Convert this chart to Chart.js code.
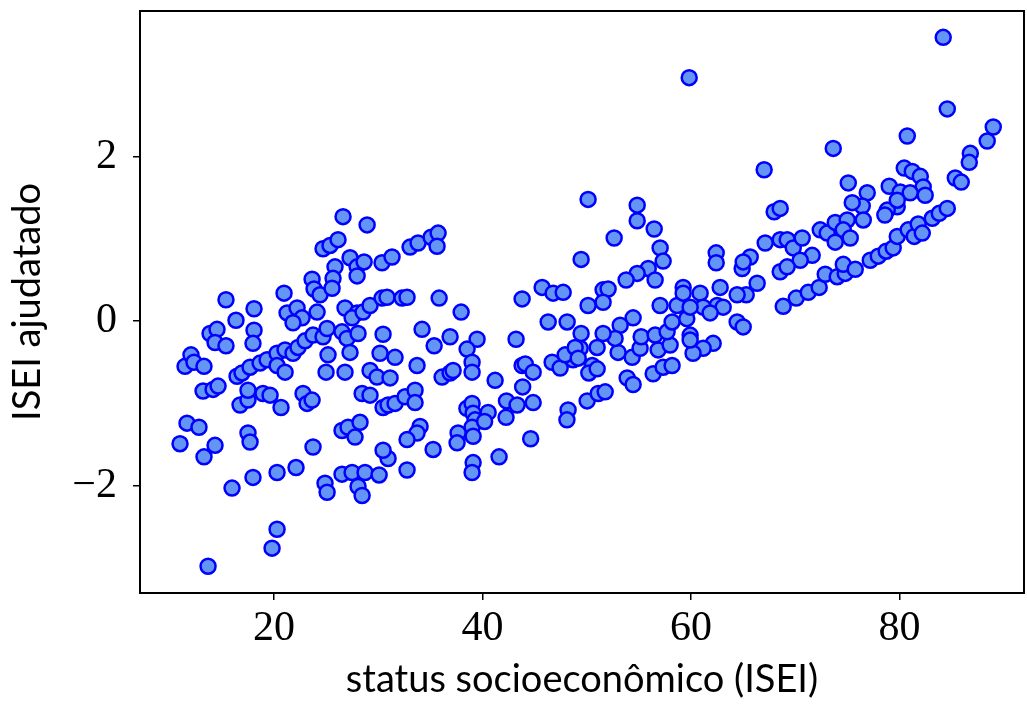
<!DOCTYPE html>
<html><head><meta charset="utf-8">
<script src="https://cdn.jsdelivr.net/npm/chart.js@4"></script>
<style>html,body{margin:0;padding:0;background:#fff;} canvas{display:block;}</style>
</head><body>
<canvas id="c" width="1027" height="704"></canvas>
<script>
const xValues = [
10.98,11.46,12.03,12.32,13.28,11.65,12.80,13.28,14.34,13.67,13.86,14.53,14.34,15.39,15.39,13.19,14.15,14.63,16.35,18.08,
18.08,17.98,16.45,16.93,17.70,18.66,19.33,20.29,21.06,21.82,22.30,22.98,23.74,24.70,25.09,20.29,21.06,16.74,17.50,17.50,
18.94,19.62,20.67,22.78,23.17,23.65,17.50,17.70,15.97,17.98,20.29,22.11,23.74,20.29,19.81,20.96,21.25,22.21,22.69,21.82,
24.13,23.65,23.84,24.41,24.70,25.37,26.14,26.62,25.85,25.66,25.57,27.29,27.97,28.64,27.97,28.93,26.81,27.97,27.49,28.54,
29.21,26.52,27.00,28.06,27.29,26.81,25.18,24.99,24.89,25.09,26.52,27.49,28.73,28.06,28.45,26.52,27.10,28.25,27.77,30.17,
31.61,33.72,29.21,29.88,31.13,28.45,29.21,30.46,30.94,31.61,32.57,33.53,33.53,34.01,33.72,32.76,35.26,30.94,30.46,30.08,
30.36,30.84,32.28,32.76,30.36,31.32,33.05,33.82,35.07,35.74,35.64,35.84,37.95,30.46,34.20,35.36,36.89,39.48,38.52,39.00,
39.00,43.22,36.12,36.89,37.18,41.21,43.80,44.10,44.86,38.50,39.00,39.10,39.29,39.00,37.66,37.56,39.10,40.54,40.20,42.30,
42.26,43.32,44.86,43.85,44.62,41.59,39.10,39.00,48.21,48.10,50.04,51.10,51.77,53.88,54.45,46.68,47.45,48.69,49.37,50.52,
50.20,51.00,47.93,48.89,49.18,56.37,57.33,58.19,56.85,53.01,54.36,55.12,58.00,55.22,56.56,57.71,58.19,54.45,53.21,52.72,
51.57,49.46,51.00,46.30,48.12,43.80,45.72,46.78,47.74,49.46,50.13,52.63,54.84,54.84,56.47,57.04,57.33,55.90,56.56,54.84,
53.78,50.13,51.57,52.05,51.57,57.04,58.67,59.25,59.25,59.60,59.92,60.88,62.80,62.51,63.09,61.17,59.92,61.84,64.43,65.01,
62.13,61.17,60.20,59.92,62.42,62.42,64.91,65.68,65.01,66.35,65.30,64.43,67.02,67.98,68.56,67.12,68.56,69.23,69.81,70.67,
71.63,70.48,68.56,69.23,68.85,70.10,71.25,72.30,72.88,74.03,74.80,74.61,75.76,77.20,77.97,78.73,79.40,79.79,80.84,81.42,
81.80,82.19,83.15,83.82,84.59,72.40,73.07,73.84,74.99,74.61,75.28,73.84,73.65,75.09,76.91,76.43,75.47,76.53,79.02,80.08,
80.46,81.23,82.00,82.28,82.47,79.79,78.83,81.03,79.79,78.60,80.75,84.59,84.20,89.00,88.42,86.80,86.70,85.36,85.93,59.83,
32.76
];
const yValues = [
-1.49,-0.55,-0.41,-0.50,-0.55,-1.24,-1.29,-1.65,-1.51,-2.98,-0.15,-0.10,-0.26,-0.30,0.26,-0.85,-0.83,-0.79,0.01,0.15,
-0.11,-0.27,-0.67,-0.63,-0.56,-0.51,-0.47,-0.39,-0.35,-0.39,-0.32,-0.24,-0.17,-0.19,-0.09,-0.54,-0.62,-1.02,-0.96,-0.84,
-0.88,-0.90,-1.05,-0.88,-1.00,-0.96,-1.36,-1.47,-2.03,-1.90,-1.84,-1.78,-1.53,-2.53,-2.76,0.34,0.10,0.16,0.04,-0.02,
0.11,0.51,0.39,0.32,0.88,0.92,0.99,1.27,0.66,0.52,0.40,0.77,0.66,0.72,0.55,1.17,0.16,0.10,0.04,0.11,
0.19,-0.13,-0.21,-0.15,-0.38,-0.62,-0.41,-0.62,-1.97,-2.08,-1.86,-1.84,-1.84,-2.01,-2.12,-1.33,-1.29,-1.23,-1.41,-0.39,
-0.44,-0.54,-0.60,-0.68,-0.69,-0.88,-0.90,-1.05,-1.02,-1.00,-0.92,-0.84,-0.99,-1.28,-1.36,-1.44,-1.56,-1.67,-1.57,-1.87,
0.28,0.29,0.28,0.29,0.71,0.78,0.90,0.95,1.02,1.07,0.91,0.28,0.11,-0.16,-0.10,-0.30,-0.19,-0.22,-0.34,-0.50,
-0.62,-0.22,-0.68,-0.63,-0.60,-0.72,-0.54,-0.52,-0.62,-1.06,-1.00,-1.12,-1.20,-1.29,-1.36,-1.48,-1.40,-1.11,-1.22,-0.97,
-1.17,-1.02,-0.99,-0.80,-1.43,-1.65,-1.72,-1.84,-1.08,-1.20,-0.97,-0.88,-0.86,-0.69,-0.77,-0.50,-0.57,-0.47,-0.33,-0.54,
-0.63,-0.58,-0.41,-0.32,-0.45,-0.64,-0.56,-0.54,-0.35,-0.38,-0.44,-0.33,-0.29,-0.19,-0.17,-0.13,-0.01,0.04,-0.05,-0.21,
-0.15,-0.15,-0.32,-0.01,-0.01,0.27,0.41,0.34,0.35,0.75,1.48,1.01,1.41,1.22,1.12,0.89,0.73,0.64,0.50,0.58,
0.50,0.19,0.38,0.39,0.23,0.19,0.19,0.41,0.34,0.03,-0.17,0.34,0.41,0.19,0.17,0.17,0.17,0.10,-0.01,-0.07,
-0.27,-0.33,-0.39,-0.23,0.83,0.71,0.64,0.78,0.72,0.46,0.32,0.32,1.84,1.33,1.37,0.95,0.99,0.99,0.89,1.01,
0.80,0.74,0.60,0.66,0.18,0.28,0.35,0.41,0.57,0.54,0.58,0.69,0.63,0.74,0.79,0.85,0.89,1.03,1.11,1.03,
1.18,1.07,1.25,1.31,1.37,1.11,1.07,1.20,1.23,1.11,1.01,0.96,2.10,1.68,1.56,1.40,1.44,1.23,1.64,1.57,
1.86,1.82,1.76,1.63,1.53,1.39,1.35,1.56,1.47,1.29,2.25,2.58,3.45,2.36,2.19,2.04,1.93,1.74,1.69,2.96,
-1.81
];
const xTicks = [20, 40, 60, 80];
const yTicks = [-2, 0, 2];
const xTitle = 'status socioeconômico (ISEI)';
const yTitle = 'ISEI ajudatado';

const points = xValues.map((x, i) => ({ x: x, y: yValues[i] }));
const fmt = v => (v < 0 ? '\u2212' + Math.abs(v) : String(v));
const noPad = s => { s.paddingTop = 0; s.paddingBottom = 0; s.paddingLeft = 0; s.paddingRight = 0; };

const framePlugin = {
  id: 'frame',
  afterDraw(chart) {
    const { ctx, chartArea: a } = chart;
    ctx.save();
    ctx.strokeStyle = '#000';
    ctx.lineWidth = 2;
    ctx.strokeRect(a.left, a.top, a.right - a.left, a.bottom - a.top);
    ctx.restore();
  }
};

new Chart(document.getElementById('c'), {
  type: 'scatter',
  data: {
    datasets: [{
      data: points,
      pointRadius: 7.5,
      pointBorderWidth: 2.5,
      backgroundColor: 'rgb(100,149,245)',
      borderColor: '#0000ff'
    }]
  },
  options: {
    responsive: false,
    animation: false,
    devicePixelRatio: 1,
    layout: { autoPadding: false, padding: { left: 0, right: 3, top: 11, bottom: 0 } },
    plugins: { legend: { display: false }, tooltip: { enabled: false } },
    scales: {
      x: {
        type: 'linear', min: 7.14, max: 91.95,
        afterBuildTicks: s => { s.ticks = xTicks.map(v => ({ value: v })); },
        afterFit: s => { s.height = 111; noPad(s); },
        grid: { drawOnChartArea: false, drawTicks: true, tickLength: 7, color: '#000', lineWidth: 1.5 },
        border: { display: true, color: '#000', width: 2 },
        ticks: { font: { family: 'Liberation Serif', size: 42 }, color: '#000', padding: 4, maxRotation: 0, callback: fmt },
        title: { display: true, text: xTitle, color: '#000', font: { family: 'Lato', size: 38 }, padding: { top: 0, bottom: 1 } }
      },
      y: {
        type: 'linear', min: -3.305, max: 3.77,
        afterBuildTicks: s => { s.ticks = yTicks.map(v => ({ value: v })); },
        afterFit: s => { s.width = 140; noPad(s); },
        grid: { drawOnChartArea: false, drawTicks: true, tickLength: 7, color: '#000', lineWidth: 1.5 },
        border: { display: true, color: '#000', width: 2 },
        ticks: { font: { family: 'Liberation Serif', size: 42 }, color: '#000', padding: 16, callback: fmt },
        title: { display: true, text: yTitle, color: '#000', font: { family: 'Lato', size: 38 }, padding: { top: 5, bottom: 0 } }
      }
    }
  },
  plugins: [framePlugin]
});
</script>
</body></html>
